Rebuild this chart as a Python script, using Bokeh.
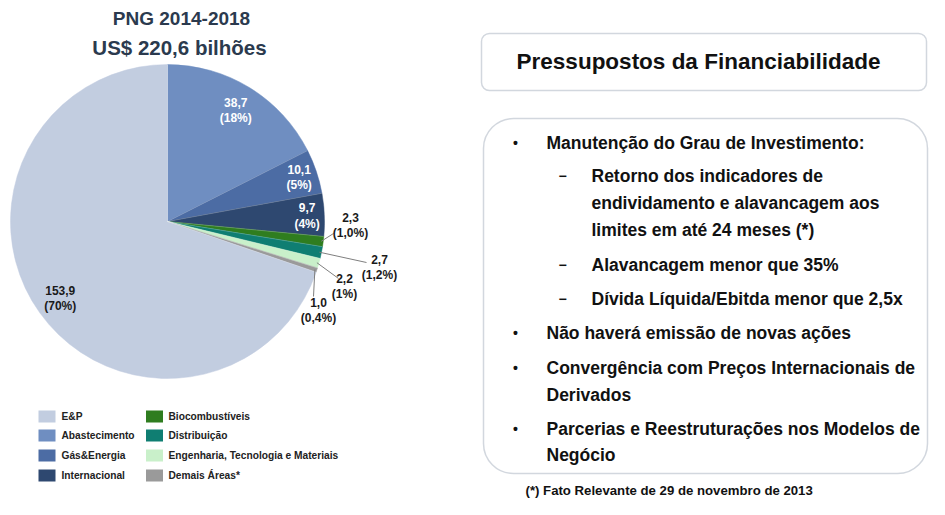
import math
from bokeh.plotting import figure
from bokeh.models import Range1d, BoxAnnotation
from bokeh.core.properties import value
from bokeh.embed import file_html
from bokeh.resources import INLINE

# ---------------- data ----------------
categories = ["Abastecimento", "Gás&Energia", "Internacional", "Biocombustíveis",
              "Distribuição", "Engenharia, Tecnologia e Materiais", "Demais Áreas*", "E&P"]
values = [38.7, 10.1, 9.7, 2.3, 2.7, 2.2, 1.0, 153.9]
pct_labels = ["(18%)", "(5%)", "(4%)", "(1,0%)", "(1,2%)", "(1%)", "(0,4%)", "(70%)"]
colors = ["#6F8EC1", "#4C6CA4", "#2E4870", "#2F7D1F", "#0F7E72", "#C9F0CA", "#9A9A9A", "#C2CDE0"]

legend_col1 = ["E&P", "Abastecimento", "Gás&Energia", "Internacional"]
legend_col2 = ["Biocombustíveis", "Distribuição", "Engenharia, Tecnologia e Materiais", "Demais Áreas*"]

title_lines = ["PNG 2014-2018", "US$ 220,6 bilhões"]
box_title = "Pressupostos da Financiabilidade"
footnote = "(*) Fato Relevante de 29 de novembro de 2013"

# ---------------- layout helpers ----------------
W, H = 929, 499
def Y(sy):
    return H - sy

SANS = "Liberation Sans"

p = figure(width=W, height=H, x_range=Range1d(0, W), y_range=Range1d(0, H),
           output_backend="svg", toolbar_location=None, min_border=0)
p.axis.visible = False
p.grid.visible = False
p.outline_line_color = None
p.background_fill_color = "white"

# ---------------- pie ----------------
cx, cy, R = 167, Y(221), 157
total = sum(values)
starts, ends = [], []
a = math.pi / 2
for v in values:
    span = v / total * 2 * math.pi
    starts.append(a)
    ends.append(a - span)
    a -= span
p.wedge(x=[cx] * len(values), y=[cy] * len(values), radius=R,
        start_angle=ends, end_angle=starts, fill_color=colors,
        line_color=colors, line_width=0.5)
for s in starts:
    p.segment(x0=[cx], y0=[cy], x1=[cx + R * math.cos(s)], y1=[cy + R * math.sin(s)],
              line_color="white", line_alpha=0.35, line_width=0.6)

mids = [(s + e) / 2 for s, e in zip(starts, ends)]
num_labels = [("%.1f" % v).replace(".", ",") for v in values]

def two_line(x, y, top, bottom, col):
    p.text(x=[x], y=[y], text=[top], text_align="center", text_baseline="middle",
           y_offset=-8, text_font=value(SANS), text_font_style="bold", text_font_size="12px",
           text_color=col)
    p.text(x=[x], y=[y], text=[bottom], text_align="center", text_baseline="middle",
           y_offset=8, text_font=value(SANS), text_font_style="bold", text_font_size="12px",
           text_color=col)

inner = {0: (0.83, "white"), 1: (0.885, "white"), 2: (0.89, "white"), 7: (0.84, "#1a1a1a")}
for i, (rf, col) in inner.items():
    two_line(cx + rf * R * math.cos(mids[i]), cy + rf * R * math.sin(mids[i]),
             num_labels[i], pct_labels[i], col)

outer = {3: ((350, 224.5), (333, 233)),
         4: ((379, 266.5), (366, 262)),
         5: ((344, 285.5), (338, 278)),
         6: ((318, 309.5), (313, 296))}
for i, ((lx, ly), (ex, ey)) in outer.items():
    px = cx + (R - 2) * math.cos(mids[i])
    py = cy + (R - 2) * math.sin(mids[i])
    p.segment(x0=[px], y0=[py], x1=[ex], y1=[Y(ey)], line_color="#7f7f7f", line_width=1)
    two_line(lx, Y(ly), num_labels[i], pct_labels[i], "#1a1a1a")

# title
p.text(x=[181], y=[Y(18)], text=[title_lines[0]], text_align="center", text_baseline="middle",
       text_font=value(SANS), text_font_style="bold", text_font_size="19px", text_color="#2B3A4E")
p.text(x=[179], y=[Y(47)], text=[title_lines[1]], text_align="center", text_baseline="middle",
       text_font=value(SANS), text_font_style="bold", text_font_size="20.5px", text_color="#2B3A4E")

# ---------------- legend ----------------
cat_color = dict(zip(categories, colors))
rows_y = [416, 435, 455, 475]
p.rect(x=[46.5] * 4, y=[Y(v) for v in rows_y], width=17, height=12,
       fill_color=[cat_color[c] for c in legend_col1], line_color=None)
p.text(x=[61] * 4, y=[Y(v) for v in rows_y], text=legend_col1, text_baseline="middle",
       text_font=value(SANS), text_font_style="bold", text_font_size="10.2px", text_color="#222222")
p.rect(x=[154] * 4, y=[Y(v) for v in rows_y], width=17, height=12,
       fill_color=[cat_color[c] for c in legend_col2], line_color=None)
p.text(x=[168] * 4, y=[Y(v) for v in rows_y], text=legend_col2, text_baseline="middle",
       text_font=value(SANS), text_font_style="bold", text_font_size="10.2px", text_color="#222222")

# ---------------- right boxes ----------------
box_line = "#6A7B92"
p.add_layout(BoxAnnotation(left=481, right=926, top=Y(33), bottom=Y(90), fill_alpha=0,
                           line_color=box_line, line_width=1.5, border_radius=8))
p.add_layout(BoxAnnotation(left=483, right=927, top=Y(118), bottom=Y(473), fill_alpha=0,
                           line_color=box_line, line_width=1.5, border_radius=30))
p.text(x=[698], y=[Y(61)], text=[box_title], text_align="center", text_baseline="middle",
       text_font=value(SANS), text_font_style="bold", text_font_size="22.5px", text_color="#111111")

bullet_lines = [
    ("•", "Manutenção do Grau de Investimento:", 142, 0),
    ("−", "Retorno dos indicadores de", 175, 1),
    ("", "endividamento e alavancagem aos", 202, 1),
    ("", "limites em até 24 meses (*)", 229, 1),
    ("−", "Alavancagem menor que 35%", 264, 1),
    ("−", "Dívida Líquida/Ebitda menor que 2,5x", 298, 1),
    ("•", "Não haverá emissão de novas ações", 332, 0),
    ("•", "Convergência com Preços Internacionais de", 367, 0),
    ("", "Derivados", 394, 0),
    ("•", "Parcerias e Reestruturações nos Modelos de", 428, 0),
    ("", "Negócio", 454, 0),
]
for mark, txt, sy, lvl in bullet_lines:
    mx = 515 if lvl == 0 else 562
    tx = 546 if lvl == 0 else 591
    if mark:
        p.text(x=[mx], y=[Y(sy)], text=[mark], text_align="center", text_baseline="middle",
               text_font=value(SANS), text_font_style="bold", text_font_size="14px", text_color="#111111")
    p.text(x=[tx], y=[Y(sy)], text=[txt], text_baseline="middle",
           text_font=value(SANS), text_font_style="bold", text_font_size="17.5px", text_color="#111111")

p.text(x=[525], y=[Y(490)], text=[footnote], text_baseline="middle",
       text_font=value(SANS), text_font_style="bold", text_font_size="13.2px", text_color="#111111")

open("out.html", "w").write(file_html(p, INLINE))
